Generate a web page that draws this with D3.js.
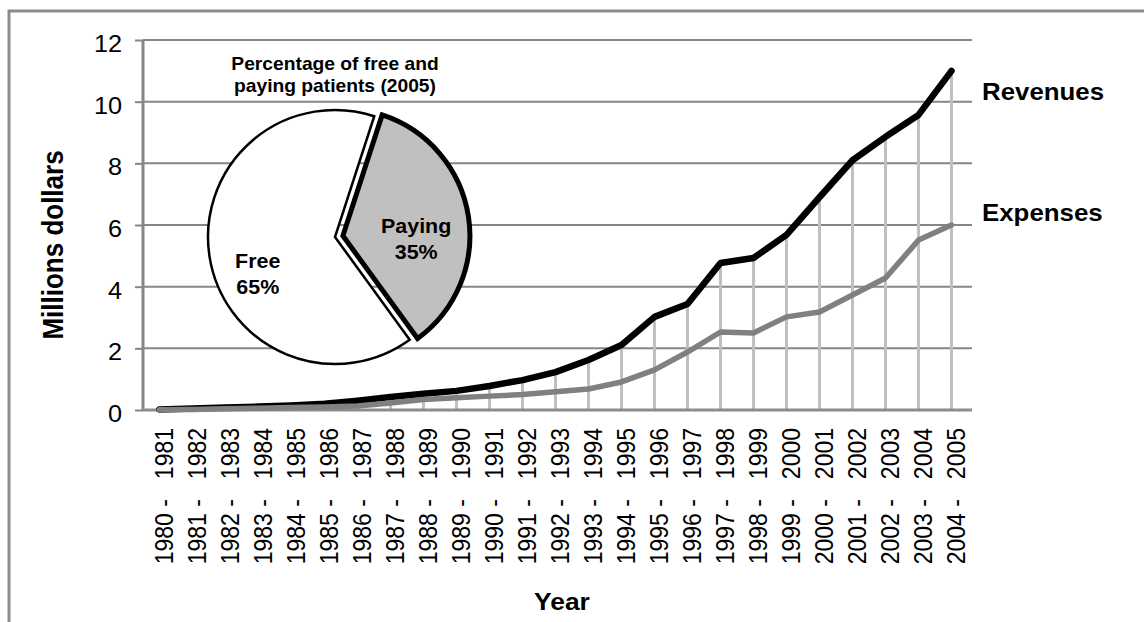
<!DOCTYPE html>
<html>
<head>
<meta charset="utf-8">
<script src="https://cdn.jsdelivr.net/npm/d3@7"></script>
<style>
  body { margin: 0; background: #fff; }
  text { font-family: "Liberation Sans", Arial, sans-serif; }
</style>
</head>
<body>
<div id="chart"></div>
<script>
const years = [
  "1980 - 1981", "1981 - 1982", "1982 - 1983", "1983 - 1984", "1984 - 1985",
  "1985 - 1986", "1986 - 1987", "1987 - 1988", "1988 - 1989", "1989 - 1990",
  "1990 - 1991", "1991 - 1992", "1992 - 1993", "1993 - 1994", "1994 - 1995",
  "1995 - 1996", "1996 - 1997", "1997 - 1998", "1998 - 1999", "1999 - 2000",
  "2000 - 2001", "2001 - 2002", "2002 - 2003", "2003 - 2004", "2004 - 2005"
];
const revenues = [0.02, 0.05, 0.08, 0.11, 0.15, 0.2, 0.3, 0.42, 0.53, 0.62,
  0.78, 0.97, 1.23, 1.62, 2.11, 3.02, 3.44, 4.77, 4.93, 5.68,
  6.9, 8.1, 8.86, 9.57, 11.0];
const expenses = [0.01, 0.02, 0.04, 0.06, 0.08, 0.1, 0.13, 0.23, 0.34, 0.4,
  0.45, 0.5, 0.59, 0.68, 0.91, 1.3, 1.88, 2.53, 2.5, 3.02,
  3.18, 3.73, 4.28, 5.51, 6.0];
const yTicks = [0, 2, 4, 6, 8, 10, 12];

const pieLabels = ["Paying", "Free"];
const pieValues = [35, 65];

const W = 1144, H = 622;
// the source picture is a little wider than tall, so text gets a slight horizontal stretch
const stretch = "scale(1.1,1)";

const svg = d3.select("#chart").append("svg")
  .attr("width", W).attr("height", H);

// outer frame (top + left only visible)
svg.append("path")
  .attr("d", `M9,${H} L9,11 L${W},11`)
  .attr("fill", "none").attr("stroke", "#8c8c8c").attr("stroke-width", 3);

const x = d3.scaleBand().domain(years).range([143, 968]);
const y = d3.scaleLinear().domain([0, 12]).range([410, 40]);
const cx = (d) => x(d) + x.bandwidth() / 2;

// gridlines
svg.append("g").selectAll("line").data(yTicks.filter(d => d > 0)).join("line")
  .attr("x1", 143).attr("x2", 972)
  .attr("y1", d => y(d)).attr("y2", d => y(d))
  .attr("stroke", "#868686").attr("stroke-width", 2);

// y axis
const yAxis = svg.append("g").attr("transform", "translate(143,0)")
  .call(d3.axisLeft(y).tickValues(yTicks).tickSize(8).tickPadding(11));
yAxis.select(".domain").attr("stroke", "#868686").attr("stroke-width", 3)
  .attr("d", `M0,${y(12)}V${y(0)}`);
yAxis.selectAll(".tick line").attr("stroke", "#868686").attr("stroke-width", 2);
yAxis.selectAll(".tick text").attr("font-size", 23).attr("fill", "#000")
  .attr("transform", `translate(0,4) ${stretch}`)
  .attr("font-family", "'Liberation Sans', Arial, sans-serif");

// pie inset
const pieData = d3.pie().sort(null)
  .startAngle(18 * Math.PI / 180).endAngle(378 * Math.PI / 180)(pieValues);
const r = 127;
const pc = [335, 237];
const arc = d3.arc().innerRadius(0).outerRadius(r);
const labelArc = d3.arc().innerRadius(r * 0.6).outerRadius(r * 0.6);
const pie = svg.append("g").attr("transform", `translate(${pc[0]},${pc[1]})`);
const explode = [8, 0];

const slices = pie.selectAll("g.slice").data(pieData).join("g")
  .attr("class", "slice")
  .attr("transform", (d, i) => {
    const a = (d.startAngle + d.endAngle) / 2;
    return `translate(${explode[i] * Math.sin(a)},${-explode[i] * Math.cos(a)})`;
  });
// draw Free first so the exploded slice sits on top
slices.sort((a, b) => b.index - a.index);
slices.append("path")
  .attr("d", arc)
  .attr("fill", (d, i) => (d.index == 0 ? "#c0c0c0" : "#fff"))
  .attr("stroke", "#000")
  .attr("stroke-width", (d) => (d.index == 0 ? 5 : 2.5))
  .attr("stroke-linejoin", "miter");

slices.append("text")
  .attr("text-anchor", "middle")
  .attr("font-size", 19.5).attr("font-weight", "bold")
  .attr("transform", (d) => {
    const c = labelArc.centroid(d);
    return `translate(${c[0] - 2},${c[1] + (d.index == 0 ? 9 : 19)}) ${stretch}`;
  })
  .selectAll("tspan")
  .data((d) => [pieLabels[d.index], pieValues[d.index] + "%"])
  .join("tspan")
  .attr("x", 0)
  .attr("dy", (d, i) => (i == 0 ? 0 : 26))
  .text((d) => d);

svg.append("text")
  .attr("text-anchor", "middle").attr("font-size", 17.5).attr("font-weight", "bold")
  .attr("transform", `translate(${pc[0]},70) ${stretch}`)
  .selectAll("tspan")
  .data(["Percentage of free and", "paying patients (2005)"])
  .join("tspan")
  .attr("x", 0).attr("y", (d, i) => i * 22)
  .text((d) => d);

// drop lines
svg.append("g").selectAll("line").data(years).join("line")
  .attr("x1", d => cx(d)).attr("x2", d => cx(d))
  .attr("y1", (d, i) => y(revenues[i])).attr("y2", y(0))
  .attr("stroke", "#c0c0c0").attr("stroke-width", 3);

// x axis line
svg.append("line")
  .attr("x1", 143).attr("x2", 972).attr("y1", y(0)).attr("y2", y(0))
  .attr("stroke", "#8c8c8c").attr("stroke-width", 3);

const line = (vals) => d3.line().x((d, i) => cx(years[i])).y(d => y(d))(vals);
svg.append("path").attr("d", line(revenues))
  .attr("fill", "none").attr("stroke", "#000").attr("stroke-width", 6.5)
  .attr("stroke-linejoin", "round").attr("stroke-linecap", "round");
svg.append("path").attr("d", line(expenses))
  .attr("fill", "none").attr("stroke", "#808080").attr("stroke-width", 5.5)
  .attr("stroke-linejoin", "round").attr("stroke-linecap", "round");

// x tick labels, rotated, split around the dash
svg.append("g").selectAll("text").data(years).join("text")
  .attr("font-size", 23)
  .attr("text-anchor", "end")
  .attr("dy", "0.35em")
  .attr("transform", d => `translate(${cx(d) + 5},428) ${stretch} rotate(-90)`)
  .selectAll("tspan")
  .data(d => {
    const p = d.split(" - ");
    return [p[0] + " -", p[1]];
  })
  .join("tspan")
  .attr("dx", (d, i) => (i == 0 ? 0 : 20))
  .text(d => d);

// axis titles
svg.append("text")
  .attr("transform", `translate(63,245) ${stretch} rotate(-90)`)
  .attr("text-anchor", "middle").attr("font-size", 26).attr("font-weight", "bold")
  .text("Millions dollars");
svg.append("text")
  .attr("transform", `translate(562,610) ${stretch}`)
  .attr("text-anchor", "middle").attr("font-size", 24).attr("font-weight", "bold")
  .text("Year");

// series labels
svg.append("text").attr("transform", `translate(982,100) ${stretch}`)
  .attr("font-size", 23.5).attr("font-weight", "bold").text("Revenues");
svg.append("text").attr("transform", `translate(982,221) ${stretch}`)
  .attr("font-size", 23.5).attr("font-weight", "bold").text("Expenses");
</script>
</body>
</html>
